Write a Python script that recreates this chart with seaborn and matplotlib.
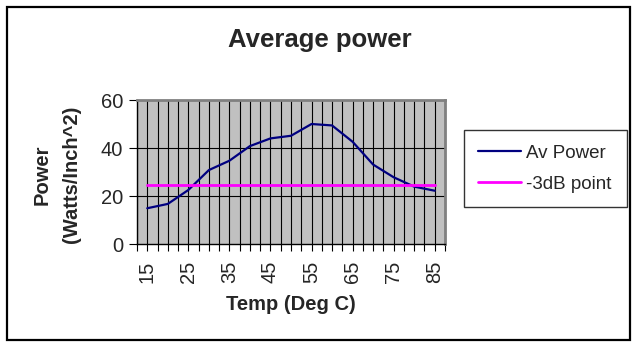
import numpy as np
import pandas as pd
import matplotlib
matplotlib.use("Agg")
import matplotlib.pyplot as plt
import seaborn as sns
from matplotlib.patches import Rectangle
from matplotlib.lines import Line2D

# ---- data ----
temps = [15, 20, 25, 30, 35, 40, 45, 50, 55, 60, 65, 70, 75, 80, 85]
av_power = [14.9, 16.7, 22.5, 30.8, 34.7, 40.8, 44.0, 45.1, 50.0, 49.4, 42.6, 33.1, 27.8, 23.9, 22.2]
db3_level = [24.6] * len(temps)
x_tick_labels = ["15", "25", "35", "45", "55", "65", "75", "85"]
y_ticks = [0, 20, 40, 60]
series_names = ["Av Power", "-3dB point"]
series_colors = ["#000080", "#FF00FF"]

sns.set_style("white")
plt.rcParams['font.family'] = ['Liberation Sans', 'DejaVu Sans']

df = pd.DataFrame({"Temp": temps * 2,
                   "Power": av_power + db3_level,
                   "Series": [series_names[0]] * len(temps) + [series_names[1]] * len(temps)})

W, H = 641, 353
fig = plt.figure(figsize=(W / 100, H / 100), dpi=100)
ax = fig.add_axes([137 / W, 1 - 244 / H, (445 - 137) / W, (244 - 100) / H])
ax.set_facecolor("#C0C0C0")

sns.lineplot(data=df, x="Temp", y="Power", hue="Series",
             palette=dict(zip(series_names, series_colors)),
             linewidth=1.6, ax=ax, legend=False, zorder=3)
for line in ax.get_lines():
    if str(line.get_color()).lower() == "#ff00ff":
        line.set_linewidth(2.0)

ax.set_xlim(12.5, 87.5)
ax.set_ylim(0, 60)
ax.set_yticks(y_ticks)
ax.set_xticks(np.arange(12.5, 87.6, 2.5), minor=True)
ax.set_xticks([int(t) for t in x_tick_labels])
ax.set_xticklabels(x_tick_labels, rotation=90)
ax.tick_params(axis="x", which="both", direction="out", length=5, width=0.8,
               color="black", bottom=True)
ax.tick_params(axis="x", which="major", labelsize=14.5, pad=7)
ax.tick_params(axis="y", direction="out", length=6, width=0.8, color="black",
               left=True, labelsize=14.5, pad=4)
for xv in np.arange(12.5, 87.6, 2.5):
    ax.axvline(xv, color="black", linewidth=0.8, zorder=1)
for yv in [20, 40]:
    ax.axhline(yv, color="black", linewidth=0.8, zorder=1)

ax.set_xlabel("")
ax.set_ylabel("")
for s in ["top", "right"]:
    ax.spines[s].set_color("#808080")
    ax.spines[s].set_linewidth(2.0)
for s in ["left", "bottom"]:
    ax.spines[s].set_color("black")
    ax.spines[s].set_linewidth(1.0)

fig.text(320 / W, 1 - 47 / H, "Average power", ha="center", va="baseline",
         fontsize=18.5, fontweight="bold")
fig.text(291 / W, 1 - 310 / H, "Temp (Deg C)", ha="center", va="baseline",
         fontsize=14.5, fontweight="bold")
fig.text(42 / W, 1 - 175 / H, "Power", ha="center", va="center",
         rotation=90, fontsize=14.5, fontweight="bold")
fig.text(72 / W, 1 - 174 / H, "(Watts/Inch^2)", ha="center", va="center",
         rotation=90, fontsize=14.5, fontweight="bold")

handles = [Line2D([], [], color=series_colors[0], linewidth=1.6),
           Line2D([], [], color=series_colors[1], linewidth=2.0)]
leg = fig.legend(handles, series_names, loc="upper left",
                 bbox_to_anchor=(464 / W, 1 - 134 / H, (627 - 464) / W, 0.01),
                 mode="expand",
                 fontsize=13.5, frameon=True, fancybox=False, edgecolor="black",
                 handlelength=2.3, handletextpad=0.25, labelspacing=0.75,
                 borderpad=0.75, borderaxespad=0)
leg.get_frame().set_linewidth(1.0)

fig.patches.append(Rectangle((6.5 / W, 1 - 340 / H), (630 - 6.5) / W, (340 - 7) / H,
                             transform=fig.transFigure, fill=False,
                             edgecolor="black", linewidth=1.6))

fig.savefig("out.png", dpi=100)
